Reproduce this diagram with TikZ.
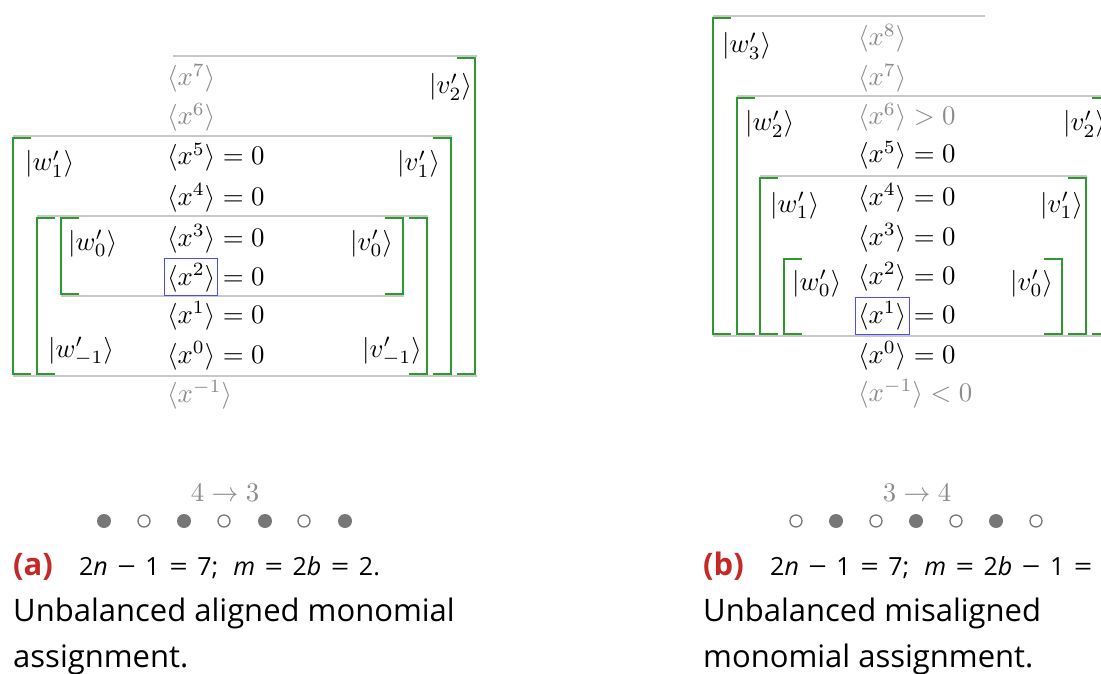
\documentclass[tikz,border=0pt]{standalone}
\usepackage{graphicx}
\usepackage{fontspec}
\newfontfamily\capfont{Open Sans}
\definecolor{rulegray}{HTML}{C8C8C8}
\definecolor{brgreen}{HTML}{2E9A2E}
\definecolor{txtgray}{HTML}{8C8C8C}
\definecolor{boxblue}{HTML}{4B4BFF}
\definecolor{capred}{HTML}{C62828}
\definecolor{dotgray}{HTML}{777777}
\newcommand\M[1]{\scalebox{2.68}{$#1$}}
\newcommand\capfs{\capfont\fontsize{31}{45}\selectfont}
\newcommand\eqfs{\capfont\fontsize{25}{45}\selectfont}
\newcommand\eqgap{\hspace{9.5pt}}
\newcommand\eqmin{\scalebox{1.3}[1]{−}}
\newcommand\eqeq{\scalebox{1.3}[1]{=}}
\tikzset{
  rule/.style={draw=rulegray, line width=1.5pt},
  brk/.style={draw=brgreen, line width=1.5pt},
  hibox/.style={draw=boxblue, line width=1pt},
  mt/.style={inner sep=0pt, anchor=base west},
  gt/.style={mt, text=txtgray},
  captxt/.style={inner sep=0pt, anchor=base west, font=\capfs},
  eqtxt/.style={inner sep=0pt, anchor=base west, font=\eqfs},
  fdot/.style={circle, fill=dotgray, inner sep=0pt, minimum size=14pt},
  hdot/.style={circle, draw=dotgray, fill=white, line width=1.3pt, inner sep=0pt, minimum size=12pt},
  arr/.style={inner sep=0pt, anchor=base, text=txtgray},
}
\begin{document}
\begin{tikzpicture}[x=1pt,y=-1pt]
\useasboundingbox (0,0) rectangle (1101,674);
\clip (0,0) rectangle (1101,674);
\fill[white] (0,0) rectangle (1101,674);

% ================= LEFT PANEL =================
% gray rules
\draw[rule] (173,56) -- (477,56);
\draw[rule] (13,136) -- (452,136);
\draw[rule] (37,216) -- (428,216);
\draw[rule] (61,296) -- (404,296);
\draw[rule] (13,376) -- (477,376);
% green brackets (left side)
\draw[brk] (31,138) -- (13,138) -- (13,374) -- (31,374);
\draw[brk] (55,218) -- (37,218) -- (37,374) -- (55,374);
\draw[brk] (79,218) -- (61,218) -- (61,294) -- (79,294);
% green brackets (right side)
\draw[brk] (385,218) -- (403,218) -- (403,294) -- (385,294);
\draw[brk] (409,218) -- (427,218) -- (427,374) -- (409,374);
\draw[brk] (433,138) -- (451,138) -- (451,374) -- (433,374);
\draw[brk] (457,58) -- (475,58) -- (475,374) -- (457,374);
% highlight box
\draw[hibox] (164,258) rectangle (217,295);

% ================= RIGHT PANEL (lines) =================
\draw[rule] (713,16) -- (985,16);
\draw[rule] (737,96) -- (1110,96);
\draw[rule] (760,176) -- (1087,176);
\draw[rule] (713,336) -- (1110,336);
% left brackets
\draw[brk] (731,18) -- (713,18) -- (713,334) -- (731,334);
\draw[brk] (755,98) -- (737,98) -- (737,334) -- (755,334);
\draw[brk] (778,178) -- (760,178) -- (760,334) -- (778,334);
\draw[brk] (802,259) -- (784,259) -- (784,334) -- (802,334);
% right brackets
\draw[brk] (1044,259) -- (1062,259) -- (1062,334) -- (1044,334);
\draw[brk] (1068,178) -- (1086,178) -- (1086,334) -- (1068,334);
\draw[brk] (1092,98) -- (1110,98) -- (1110,334) -- (1092,334);
% highlight box
\draw[hibox] (855.5,297.5) rectangle (909,334);

% dots
\node[fdot] (Ld1) at (104,521) {};
\node[hdot] (Ld2) at (144,521) {};
\node[fdot] (Ld3) at (184,521) {};
\node[hdot] (Ld4) at (224,521) {};
\node[fdot] (Ld5) at (265,521) {};
\node[hdot] (Ld6) at (304,521) {};
\node[fdot] (Ld7) at (345,521) {};
\node[hdot] (Rd1) at (796,521) {};
\node[fdot] (Rd2) at (836,521) {};
\node[hdot] (Rd3) at (876,521) {};
\node[fdot] (Rd4) at (916,521) {};
\node[hdot] (Rd5) at (956,521) {};
\node[fdot] (Rd6) at (996,521) {};
\node[hdot] (Rd7) at (1036,521) {};

% ================= LEFT PANEL TEXT =================
\node[gt] (La7) at (167,86) {\M{\langle x^{7}\rangle}};
\node[gt] (La6) at (167,125) {\M{\langle x^{6}\rangle}};
\node[mt] (La5) at (167,165) {\M{\langle x^{5}\rangle = 0}};
\node[mt] (La4) at (167,205) {\M{\langle x^{4}\rangle = 0}};
\node[mt] (La3) at (167,246) {\M{\langle x^{3}\rangle = 0}};
\node[mt] (La2) at (167,285) {\M{\langle x^{2}\rangle = 0}};
\node[mt] (La1) at (167,323) {\M{\langle x^{1}\rangle = 0}};
\node[mt] (La0) at (167,363) {\M{\langle x^{0}\rangle = 0}};
\node[gt] (Lam) at (167,402) {\M{\langle x^{-1}\rangle}};
\node[mt] (Lw1) at (25,171) {\M{|w'_1\rangle}};
\node[mt] (Lv1) at (397,171) {\M{|v'_1\rangle}};
\node[mt] (Lv2) at (429,94) {\M{|v'_2\rangle}};
\node[mt] (Lw0) at (68,250) {\M{|w'_0\rangle}};
\node[mt] (Lv0) at (350,250) {\M{|v'_0\rangle}};
\node[mt] (Lwm) at (48,357) {\M{|w'_{-1}\rangle}};
\node[mt] (Lvm) at (362,357) {\M{|v'_{-1}\rangle}};
\node[arr] (Ltr) at (225,501) {\M{4 \to 3}};
\node[captxt, text=capred] (Lcapa) at (13,575) {\bfseries (a)};
\node[eqtxt] (Lcapeq) at (79,575) {2\textit{n}\eqgap\eqmin\eqgap1\eqgap\eqeq\eqgap7;\hspace{15pt}\textit{m}\eqgap\eqeq\eqgap2\textit{b}\eqgap\eqeq\eqgap2.};
\node[captxt] (Lcap2) at (13,621) {Unbalanced aligned monomial};
\node[captxt] (Lcap3) at (13,667) {assignment.};

% ================= RIGHT PANEL TEXT =================
\node[gt] (Rb8) at (858,46) {\M{\langle x^{8}\rangle}};
\node[gt] (Rb7) at (858,86) {\M{\langle x^{7}\rangle}};
\node[gt] (Rb6) at (858,125) {\M{\langle x^{6}\rangle > 0}};
\node[mt] (Rb5) at (858,163) {\M{\langle x^{5}\rangle = 0}};
\node[mt] (Rb4) at (858,205) {\M{\langle x^{4}\rangle = 0}};
\node[mt] (Rb3) at (858,245) {\M{\langle x^{3}\rangle = 0}};
\node[mt] (Rb2) at (858,284) {\M{\langle x^{2}\rangle = 0}};
\node[mt] (Rb1) at (858,323) {\M{\langle x^{1}\rangle = 0}};
\node[mt] (Rb0) at (858,363) {\M{\langle x^{0}\rangle = 0}};
\node[gt] (Rbm) at (858,401) {\M{\langle x^{-1}\rangle < 0}};
\node[mt] (Rw3) at (722,53) {\M{|w'_3\rangle}};
\node[mt] (Rw2) at (745,131) {\M{|w'_2\rangle}};
\node[mt] (Rv2) at (1063,131) {\M{|v'_2\rangle}};
\node[mt] (Rw1) at (770,212) {\M{|w'_1\rangle}};
\node[mt] (Rv1) at (1040,212) {\M{|v'_1\rangle}};
\node[mt] (Rw0) at (792,290) {\M{|w'_0\rangle}};
\node[mt] (Rv0) at (1010,290) {\M{|v'_0\rangle}};
\node[arr] (Rtr) at (917,501) {\M{3 \to 4}};
\node[captxt, text=capred] (Rcapb) at (703,575) {\bfseries (b)};
\node[eqtxt] (Rcapeq) at (770,575) {2\textit{n}\eqgap\eqmin\eqgap1\eqgap\eqeq\eqgap7;\hspace{15pt}\textit{m}\eqgap\eqeq\eqgap2\textit{b}\eqgap\eqmin\eqgap1\eqgap\eqeq};
\node[captxt] (Rcap2) at (703,621) {Unbalanced misaligned};
\node[captxt] (Rcap3) at (703,667) {monomial assignment.};
\end{tikzpicture}
\end{document}
